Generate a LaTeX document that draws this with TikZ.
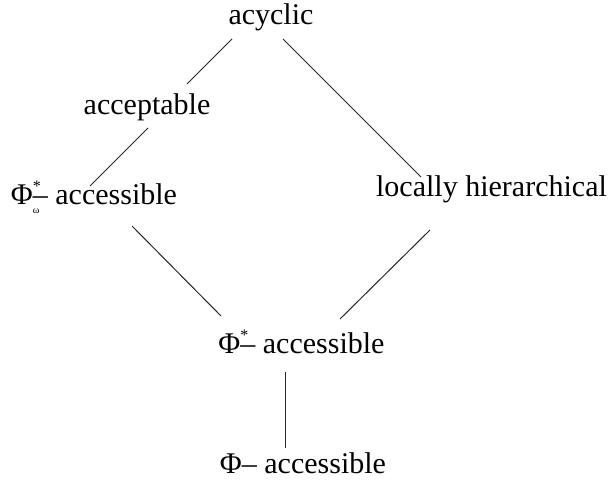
\documentclass[tikz,border=0pt]{standalone}
\usepackage{fontspec}
\setmainfont{Liberation Serif}
\usepackage{tikz}
\usetikzlibrary{calc}
\newcommand{\phiacc}[2]{Φ\rlap{\raisebox{0.42em}{\footnotesize #1}}\rlap{\raisebox{-0.3em}{\tiny #2}}–}
\tikzset{%
  lbl/.style = {anchor=base,inner sep=0pt,font=\fontsize{15}{18}\selectfont},
  rel/.style = {line width=0.5pt,black!85}
}

\begin{document}
\begin{tikzpicture}[x=0.5pt,y=-0.5pt]
    \useasboundingbox (0,0) rectangle (610,481);
    \node[lbl] (acyclic) at (271,25) {acyclic};
    \node[lbl] (accept) at (147,115) {acceptable};
    \node[lbl] (phiom) at (94,204) {\phiacc{*}{ω} accessible};
    \node[lbl] (lochier) at (491.5,196) {locally hierarchical};
    \node[lbl] (phistar) at (301.5,353) {\phiacc{*}{} accessible};
    \node[lbl] (phi) at (303,473) {Φ– accessible};
    \draw[rel] ($(acyclic.base)+(-39,14)$) -- ($(accept.base)+(40,-31)$);
    \draw[rel] ($(accept.base)+(1,13)$) -- ($(phiom.base)+(-4,-18)$);
    \draw[rel] ($(acyclic.base)+(12,14)$) -- ($(lochier.base)+(-70.5,-19)$);
    \draw[rel] ($(phiom.base)+(38,22)$) -- ($(phistar.base)+(-80.5,-37)$);
    \draw[rel] ($(lochier.base)+(-61.5,34)$) -- ($(phistar.base)+(38.5,-34)$);
    \draw[rel] ($(phistar.base)+(-16.5,19)$) -- ($(phi.base)+(-18,-25)$);
\end{tikzpicture}
\end{document}
